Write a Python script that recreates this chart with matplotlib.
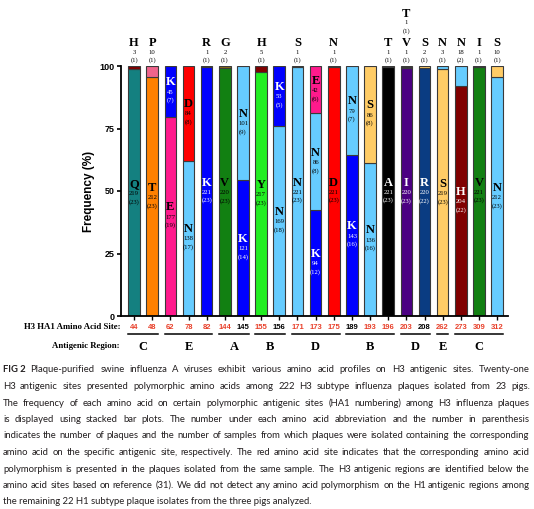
import matplotlib
matplotlib.use("Agg")
import matplotlib.pyplot as plt
from matplotlib import font_manager

# H3 HA1 sites and whether the polymorphism came from the same sample (red label)
sites = [44, 48, 62, 78, 82, 144, 145, 155, 156, 171, 173, 175,
         189, 193, 196, 203, 208, 262, 273, 309, 312]
site_red = [1, 1, 1, 1, 1, 1, 0, 1, 0, 1, 1, 1,
            0, 1, 1, 1, 0, 1, 1, 1, 1]

# amino acids per site, bottom to top of the stack
amino_acids = [['Q', 'H'], ['T', 'P'], ['E', 'K'], ['N', 'D'], ['K', 'R'],
               ['V', 'G'], ['K', 'N'], ['Y', 'H'], ['N', 'K'], ['N', 'S'],
               ['K', 'N', 'E'], ['D', 'N'], ['K', 'N'], ['N', 'S'], ['A', 'T'],
               ['I', 'V', 'T'], ['R', 'S'], ['S', 'N'], ['H', 'N'], ['V', 'I'],
               ['N', 'S']]
plaques = [[219, 3], [212, 10], [177, 45], [138, 84], [221, 1],
           [220, 2], [121, 101], [217, 5], [169, 53], [221, 1],
           [94, 86, 42], [221, 1], [143, 79], [136, 86], [221, 1],
           [220, 1, 1], [220, 2], [219, 3], [204, 18], [221, 1],
           [212, 10]]
pigs = [[23, 1], [23, 1], [19, 7], [17, 8], [23, 1],
        [23, 1], [14, 9], [23, 1], [18, 5], [23, 1],
        [12, 8, 6], [23, 1], [16, 7], [16, 8], [23, 1],
        [23, 1, 1], [22, 1], [23, 1], [22, 2], [23, 1],
        [23, 1]]

regions = ['C', 'E', 'A', 'B', 'D', 'B', 'D', 'E', 'C']
region_sizes = [2, 3, 2, 2, 3, 3, 2, 1, 3]

caption_lines = [
    "Plaque-purified swine influenza A viruses exhibit various amino acid profiles on H3 antigenic sites. Twenty-one",
    "H3 antigenic sites presented polymorphic amino acids among 222 H3 subtype influenza plaques isolated from 23 pigs.",
    "The frequency of each amino acid on certain polymorphic antigenic sites (HA1 numbering) among H3 influenza plaques",
    "is displayed using stacked bar plots. The number under each amino acid abbreviation and the number in parenthesis",
    "indicates the number of plaques and the number of samples from which plaques were isolated containing the corresponding",
    "amino acid on the specific antigenic site, respectively. The red amino acid site indicates that the corresponding amino acid",
    "polymorphism is presented in the plaques isolated from the same sample. The H3 antigenic regions are identified below the",
    "amino acid sites based on reference (31). We did not detect any amino acid polymorphism on the H1 antigenic regions among",
    "the remaining 22 H1 subtype plaque isolates from the three pigs analyzed.",
]

aa_colors = {
    'Q': '#148080', 'H': '#800000', 'T': '#FF8000', 'P': '#F0648C',
    'E': '#FF1A8C', 'K': '#0000FF', 'N': '#66CCFF', 'D': '#FF0000',
    'R': '#0A3C82', 'V': '#128012', 'G': '#8B6914', 'Y': '#22EE22',
    'S': '#FFCC66', 'A': '#000000', 'I': '#4B0082',
}
white_text = {'K', 'H', 'A', 'I', 'R'}

SERIF = 'Liberation Serif'
SANS = 'Liberation Sans'
W, H = 534, 509

fig = plt.figure(figsize=(W / 100, H / 100), dpi=100)
ax = fig.add_axes([121 / W, 1 - 316 / H, 387 / W, 250 / H])

bar_w = 0.64
for i, (aas, counts, npig) in enumerate(zip(amino_acids, plaques, pigs)):
    total = sum(counts)
    bottom = 0
    level = 0
    for a, c, p in zip(aas, counts, npig):
        freq = c / total * 100
        ax.bar(i, freq, bottom=bottom, width=bar_w, color=aa_colors[a],
               edgecolor='#3a3a3a', linewidth=0.8, zorder=2)
        if c >= 40:
            mid = bottom + freq / 2
            tc = 'white' if a in white_text else 'black'
            ax.annotate(a, (i, mid), xytext=(0, 6.5), textcoords='offset points',
                        ha='center', va='center', fontsize=9, fontweight='bold',
                        family=SERIF, color=tc)
            ax.annotate(str(c), (i, mid), xytext=(0, -0.5), textcoords='offset points',
                        ha='center', va='center', fontsize=4.8, family=SERIF, color=tc)
            ax.annotate('(%d)' % p, (i, mid), xytext=(0, -6.5), textcoords='offset points',
                        ha='center', va='center', fontsize=4.8, family=SERIF, color=tc)
        else:
            off = level * 21
            tr = ax.get_xaxis_transform()
            ax.annotate(a, (i, 1), xycoords=tr, xytext=(0, 16.6 + off),
                        textcoords='offset points', ha='center', va='center',
                        fontsize=9, fontweight='bold', family=SERIF,
                        annotation_clip=False)
            ax.annotate(str(c), (i, 1), xycoords=tr, xytext=(0, 10 + off),
                        textcoords='offset points', ha='center', va='center',
                        fontsize=4.8, family=SERIF, annotation_clip=False)
            ax.annotate('(%d)' % p, (i, 1), xycoords=tr, xytext=(0, 4.3 + off),
                        textcoords='offset points', ha='center', va='center',
                        fontsize=4.8, family=SERIF, annotation_clip=False)
            level += 1
        bottom += freq

ax.set_xlim(-0.72, 20.6)
ax.set_ylim(0, 100)
ax.spines['top'].set_visible(False)
ax.spines['right'].set_visible(False)
ax.spines['left'].set_linewidth(1.3)
ax.spines['bottom'].set_linewidth(1.3)
ax.set_yticks([0, 25, 50, 75, 100])
ax.tick_params(axis='y', length=3, width=1.2, pad=1.5)
ax.tick_params(axis='x', length=3, width=1.0, pad=2.5)
for lab in ax.get_yticklabels():
    lab.set_fontsize(6.5)
    lab.set_fontweight('bold')
    lab.set_family(SANS)
ax.set_xticks(range(len(sites)))
ax.set_xticklabels([str(s) for s in sites], fontsize=5.5, fontweight='bold', family=SANS)
for lab, red in zip(ax.get_xticklabels(), site_red):
    lab.set_color('#E8402A' if red else 'black')
ax.set_ylabel('Frequency (%)', fontsize=8.5, fontweight='bold', family=SANS)
ax.yaxis.set_label_coords(-0.067, 0.5)

tr = ax.get_xaxis_transform()
fig.text(120 / W, 1 - 327 / H, 'H3 HA1 Amino Acid Site:', ha='right', va='center',
         fontsize=6.3, fontweight='bold', family=SERIF)
fig.text(120 / W, 1 - 346 / H, 'Antigenic Region:', ha='right', va='center',
         fontsize=6.3, fontweight='bold', family=SERIF)
start = 0
for reg, n in zip(regions, region_sizes):
    x0 = start - bar_w / 2
    x1 = start + n - 1 + bar_w / 2
    ax.plot([x0, x1], [-(334 - 316) / 250] * 2, color='black', lw=1.1,
            transform=tr, clip_on=False)
    ax.text((x0 + x1) / 2, -(347 - 316) / 250, reg, transform=tr, ha='center',
            va='center', fontsize=9, fontweight='bold', family=SERIF)
    start += n

# justified caption; a narrow face is closer to the journal font if present
installed = {f.name for f in font_manager.fontManager.ttflist}
cap_font = 'Liberation Sans Narrow' if 'Liberation Sans Narrow' in installed else 'Lato'
cap_color = '#231f20'
renderer = fig.canvas.get_renderer()


def text_width(s, size, weight='normal'):
    t = fig.text(0, 0, s, fontsize=size, fontweight=weight, family=cap_font)
    w = t.get_window_extent(renderer).width
    t.remove()
    return w


x_left, x_right = 3, 530
base = 10.0
space_b = text_width('a a', base) - text_width('aa', base)
fig_b = text_width('FIG 2', base, 'bold') + 1.8 * space_b
# size at which the tightest line fits with normal word spacing
sizes = []
for k, line in enumerate(caption_lines[:-1]):
    words = line.split(' ')
    natural = sum(text_width(wd, base) for wd in words) + (len(words) - 1) * space_b
    if k == 0:
        natural += fig_b
    sizes.append(base * (x_right - x_left) / natural)
size = min(sizes)
scale = size / base

y0, dy = 370, 16.5
for k, line in enumerate(caption_lines):
    y = 1 - (y0 + k * dy) / H
    x = x_left
    if k == 0:
        fig.text(x / W, y, 'FIG 2', fontsize=size, fontweight='bold', family=cap_font,
                 color=cap_color, va='center', ha='left')
        x += fig_b * scale
    if k == len(caption_lines) - 1:
        fig.text(x / W, y, line, fontsize=size, family=cap_font, color=cap_color,
                 va='center', ha='left')
        continue
    words = line.split(' ')
    widths = [text_width(wd, base) * scale for wd in words]
    gap = ((x_right - x) - sum(widths)) / (len(words) - 1)
    for wd, ww in zip(words, widths):
        fig.text(x / W, y, wd, fontsize=size, family=cap_font, color=cap_color,
                 va='center', ha='left')
        x += ww + gap

fig.savefig('out.png', dpi=100)
